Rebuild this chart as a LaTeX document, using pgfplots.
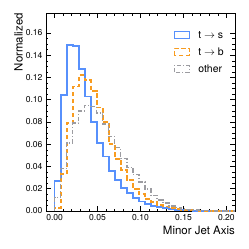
\documentclass[border=0pt]{standalone}
\usepackage{fontspec}
\setmainfont{TeX Gyre Heros}
\usepackage{pgfplots}
\pgfplotsset{compat=1.18}
\definecolor{cblue}{HTML}{5790FC}
\definecolor{corange}{HTML}{F89C20}
\definecolor{cgrey}{HTML}{9C9CA1}
\begin{document}
\begin{tikzpicture}
\begin{axis}[
  name=ax,
  width=189bp, height=198bp, scale only axis,
  xmin=-0.01, xmax=0.21, ymin=0, ymax=0.178,
  xtick={0,0.05,0.1,0.15,0.2},
  ytick={0,0.02,0.04,0.06,0.08,0.1,0.12,0.14,0.16},
  minor xtick={-0.01,0.01,0.02,0.03,0.04,0.06,0.07,0.08,0.09,0.11,0.12,0.13,0.14,0.16,0.17,0.18,0.19,0.21},
  minor y tick num=3,
  tick align=inside,
  xtick pos=both, ytick pos=both,
  major tick length=5bp, minor tick length=2.5bp,
  tick style={black, line width=0.6pt},
  axis line style={line width=0.9pt},
  xticklabel style={/pgf/number format/.cd, fixed, fixed zerofill, precision=2},
  yticklabel style={/pgf/number format/.cd, fixed, fixed zerofill, precision=2},
  scaled ticks=false,
  /pgf/number format/assume math mode=true,
  ticklabel style={font=\fontsize{8.6}{10}\selectfont},
  label style={font=\fontsize{11.5}{13}\selectfont},
  xlabel={Minor Jet Axis},
  xlabel style={at={(rel axis cs:1,0)}, anchor=north east, yshift=-15bp, inner sep=0pt},
  ylabel={Normalized},
  ylabel style={at={(rel axis cs:0,1)}, anchor=south east, yshift=23bp, inner sep=0pt},
  legend style={at={(rel axis cs:1,1)}, anchor=north east, xshift=-9bp, yshift=-15bp, draw=none, fill=none,
    font=\fontsize{10.5}{12}\selectfont, row sep=5.5pt, inner sep=1pt,
    nodes={inner sep=1pt}},
  legend cell align=left,
]
\addplot[cblue, line width=1.8pt, const plot mark left, legend image code/.code={\draw[cblue, line width=1.7pt] (0bp,-3.5bp) rectangle (15bp,3.5bp); \path (22bp,0);}] coordinates {
(0,0) (0,0.027) (0.007,0.104) (0.014,0.149) (0.021,0.148) (0.028,0.128) (0.035,0.103)
(0.042,0.080) (0.049,0.061) (0.056,0.049) (0.063,0.036) (0.070,0.028) (0.077,0.021)
(0.084,0.016) (0.091,0.012) (0.098,0.0085) (0.105,0.0066) (0.112,0.0048) (0.119,0.0036)
(0.126,0.0024) (0.133,0.0018) (0.140,0.0012) (0.147,0.0008) (0.154,0.0005) (0.161,0.0003)
(0.168,0.0002) (0.175,0.0001) (0.182,0.0001) (0.189,0.00005) (0.196,0.00003) (0.203,0.00002)
(0.21,0.00002) (0.21,0)};
\addlegendentry{t $\rightarrow$ s\rule{0pt}{8pt}}
\addplot[corange, line width=1.8pt, dash pattern=on 4.5bp off 2.5bp, const plot mark left, legend image code/.code={\draw[corange, line width=1.7pt, dash pattern=on 4.5bp off 2.5bp] (0bp,-3.5bp) rectangle (15bp,3.5bp); \path (22bp,0);}] coordinates {
(0,0) (0,0.003) (0.007,0.033) (0.014,0.079) (0.021,0.112) (0.028,0.122) (0.035,0.118)
(0.042,0.108) (0.049,0.093) (0.056,0.080) (0.063,0.060) (0.070,0.047) (0.077,0.037)
(0.084,0.028) (0.091,0.020) (0.098,0.015) (0.105,0.011) (0.112,0.008) (0.119,0.0055)
(0.126,0.004) (0.133,0.0027) (0.140,0.0018) (0.147,0.0012) (0.154,0.0008) (0.161,0.0005)
(0.168,0.0003) (0.175,0.0002) (0.182,0.00015) (0.189,0.0001) (0.196,0.00005) (0.203,0.00003)
(0.21,0.00003) (0.21,0)};
\addlegendentry{t $\rightarrow$ b\rule{0pt}{8pt}}
\addplot[cgrey, line width=1.5pt, dash pattern=on 4.5bp off 2bp on 1bp off 2bp, const plot mark left, legend image code/.code={\draw[cgrey, line width=1.5pt, dash pattern=on 4.5bp off 2bp on 1bp off 2bp] (0bp,-3.5bp) rectangle (15bp,3.5bp); \path (22bp,0);}] coordinates {
(0,0) (0,0.012) (0.007,0.038) (0.014,0.061) (0.021,0.079) (0.028,0.090) (0.035,0.095)
(0.042,0.094) (0.049,0.088) (0.056,0.078) (0.063,0.067) (0.070,0.057) (0.077,0.047)
(0.084,0.039) (0.091,0.033) (0.098,0.026) (0.105,0.020) (0.112,0.014) (0.119,0.010)
(0.126,0.007) (0.133,0.0045) (0.140,0.003) (0.147,0.002) (0.154,0.0012) (0.161,0.0008)
(0.168,0.0005) (0.175,0.0003) (0.182,0.0002) (0.189,0.0001) (0.196,0.0001) (0.203,0.00005)
(0.21,0.00005) (0.21,0)};
\addlegendentry{other\rule{0pt}{8pt}}
\end{axis}
\pgfresetboundingbox
\path ([shift={(-46bp,-38bp)}]ax.south west) rectangle ([shift={(14bp,13bp)}]ax.north east);
\end{tikzpicture}
\end{document}
